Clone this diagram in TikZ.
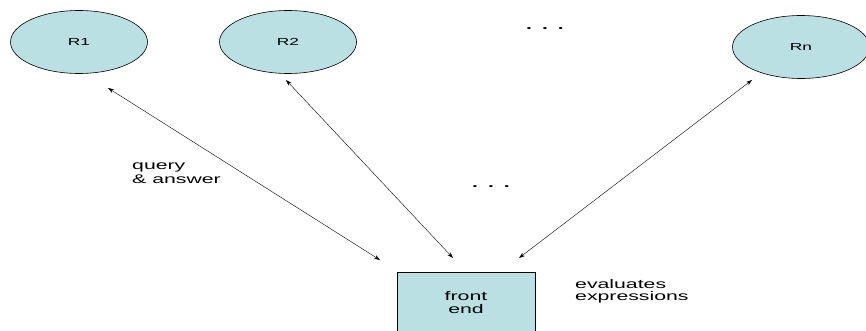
\documentclass[tikz,border=0pt]{standalone}
\usepackage{fontspec}
\setmainfont{Liberation Sans}
\newfontfamily\widesans[FakeStretch=1.7]{Liberation Sans}
\usepackage{tikz}
\usetikzlibrary{calc,shapes.geometric,arrows.meta}
\definecolor{boxblue}{RGB}{186,224,227}
\tikzset{
  repo/.style={ellipse,draw=black,fill=boxblue,line width=0.6pt,minimum width=137pt,minimum height=63pt,inner sep=0pt,font=\widesans\fontsize{10.2}{12}\selectfont},
  front/.style={rectangle,draw=black,fill=boxblue,line width=0.6pt,minimum width=138pt,minimum height=61.6pt,inner sep=0pt,align=center,font=\widesans\fontsize{12.5}{13.3}\selectfont},
  link/.style={{Stealth[length=6pt,width=4pt]}-{Stealth[length=6pt,width=4pt]},line width=0.4pt},
  note/.style={align=left,inner sep=0pt},
  more/.style={font=\widesans\bfseries\fontsize{12.5}{12.5}\selectfont,inner sep=0pt}
}
\begin{document}
\begin{tikzpicture}[x=1pt,y=-1pt]
\clip (0,0) rectangle (866,331);
\node[repo] (r1) at (79,42) {R1};
\node[repo] (r2) at (288,42) {R2};
\node[repo] (rn) at (801,47) {Rn};
\node[more] (dotstop) at (545,29) {.\hspace{10pt}.\hspace{10pt}.};
\node[front] (frontend) at (466,302.8) {front\\end};
\node[more] (dotsmid) at (491,187) {.\hspace{10pt}.\hspace{10pt}.};
\coordinate (r1end) at (108,88);
\coordinate (r2end) at (286,80);
\coordinate (rnend) at (752,80);
\coordinate (fe1) at (380,260);
\coordinate (fe2) at (453,258);
\coordinate (fe3) at (519,258);
\draw[link] (r1end) -- (fe1);
\draw[link] (r2end) -- (fe2);
\draw[link] (rnend) -- (fe3);
\node[note,anchor=west,font=\widesans\fontsize{12.5}{14}\selectfont] (qa) at (132,173) {query\\\& answer};
\node[note,anchor=west,font=\widesans\fontsize{12.5}{11.7}\selectfont] (eval) at (575,291) {evaluates\\expressions};
\end{tikzpicture}
\end{document}
